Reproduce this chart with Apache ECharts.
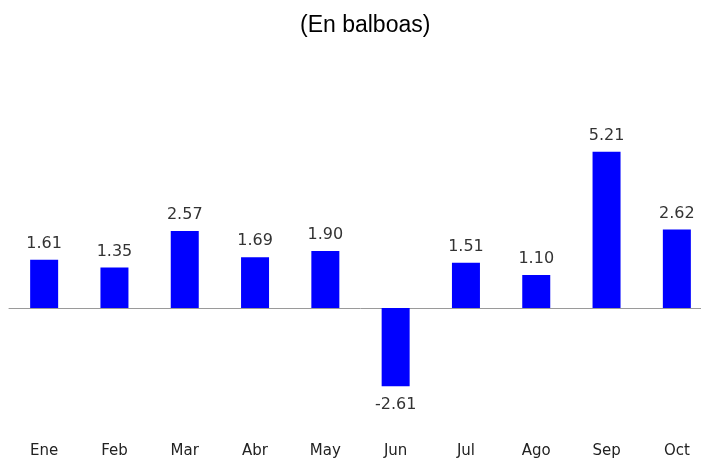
<!DOCTYPE html>
<html>
<head>
<meta charset="utf-8">
<style>
  html, body { margin: 0; padding: 0; background: #fff; overflow: hidden; }
  #main { width: 712px; height: 459px; }
</style>
<script src="https://cdn.jsdelivr.net/npm/echarts@6/dist/echarts.min.js"></script>
</head>
<body>
<div id="main"></div>
<script>
// meses y valores (en balboas)
var months = ["Ene", "Feb", "Mar", "Abr", "May", "Jun", "Jul", "Ago", "Sep", "Oct"];
var values = [1.61, 1.35, 2.57, 1.69, 1.90, -2.61, 1.51, 1.10, 5.21, 2.62];

var myChart = echarts.init(document.getElementById("main"));

var barData = values.map(function (v) {
  return {
    value: v,
    label: v < 0 ? { position: "bottom", distance: 11 } : { position: "top", distance: 8 }
  };
});

myChart.setOption({
  animation: false,
  title: {
    text: "(En balboas)",
    left: 295,
    top: 9,
    textStyle: {
      fontFamily: "Liberation Sans",
      fontSize: 23,
      fontWeight: "normal",
      color: "#000"
    }
  },
  grid: { left: 9, right: 0, top: 128, bottom: 30 },
  xAxis: [
    {
      // etiquetas abajo
      type: "category",
      data: months,
      axisLine: { show: false, onZero: false },
      axisTick: { show: false },
      axisLabel: {
        margin: 16,
        fontFamily: "DejaVu Sans",
        fontSize: 15,
        color: "#222"
      }
    },
    {
      // linea del cero
      type: "category",
      data: months,
      position: "bottom",
      axisLine: { show: true, onZero: true, lineStyle: { color: "#9a9a9a", width: 1 } },
      axisTick: { show: false },
      axisLabel: { show: false }
    }
  ],
  yAxis: {
    type: "value",
    min: -4,
    max: 6,
    show: false,
    splitLine: { show: false }
  },
  series: [
    {
      type: "bar",
      xAxisIndex: 0,
      data: barData,
      barWidth: 28,
      itemStyle: { color: "#0000ff" },
      label: {
        show: true,
        fontFamily: "DejaVu Sans",
        fontSize: 16,
        color: "#333",
        formatter: function (p) { return p.value.toFixed(2); }
      }
    }
  ]
});

window.addEventListener("resize", function () { myChart.resize(); });
</script>
</body>
</html>
